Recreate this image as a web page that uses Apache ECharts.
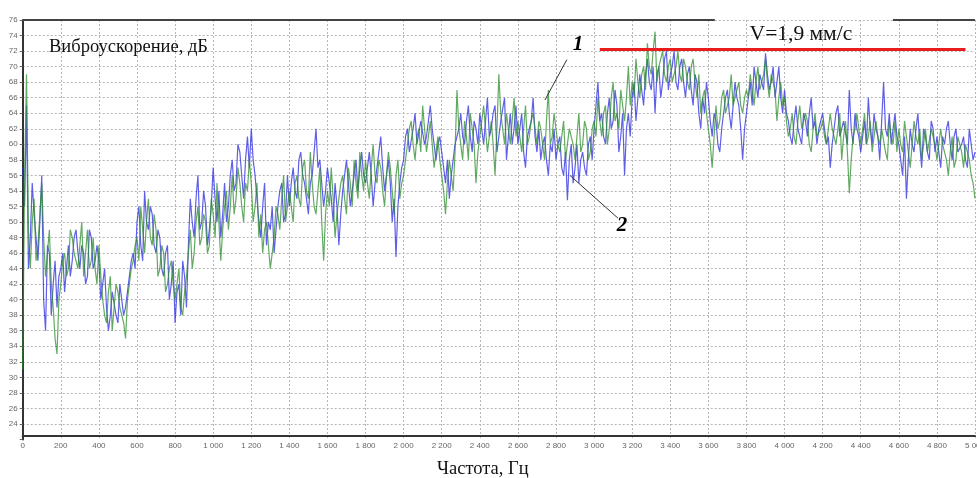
<!DOCTYPE html>
<html>
<head>
<meta charset="utf-8">
<script src="https://cdn.jsdelivr.net/npm/echarts@6/dist/echarts.min.js"></script>
<style>
html,body{margin:0;padding:0;background:#fff;}
#c{width:977px;height:478px;}
</style>
</head>
<body>
<div id="c"></div>
<script>
// Frequency step of the read-off samples (Hz): main samples at 0,20,40..., mid samples at 10,30,50...
const FREQ_STEP = 20;

// Series 1 (green), dB, at 0,20,...,5000 Hz
const green = [
31,69,44,53,47,55,43,49,39,33,
42,46,44,48,45,47,43,49,45,44,
47,40,37,43,39,41,38,35,42,45,
48,52,46,53,47,49,44,46,42,45,
40,44,38,43,49,46,52,48,50,47,
51,55,45,52,49,56,53,55,50,54,
55,52,48,46,50,44,48,51,53,50,
54,50,56,52,58,53,55,51,57,45,
54,57,48,53,56,51,55,58,53,56,
58,53,60,55,57,52,59,54,56,53,
56,60,63,58,62,65,59,63,57,61,
56,51,58,54,67,60,63,58,62,55,
61,65,59,63,56,69,62,64,60,66,
63,59,65,61,64,60,62,58,67,61,
62,59,63,60,61,58,64,60,62,59,
63,66,61,65,62,68,64,67,63,70,
68,71,66,70,73,69,74.5,70,72,68,
71,69,72,68,70,67,71,66,64,67,
62,57,65,63,67,64,69,66,68,64,
67,69,65,70,68,71,66,69,63,68,
66,61,64,60,65,62,63,59,64,61,
63,60,64,61,62,58,63,53.7,61,64,
60,64,61,59,63,60,62,58,61,63,
62,59,61,57,63,60,58,62,59,61,
58,62,59,56,61,58,60,57,59,56,
53
];
// Series 1 (green), dB, at 10,30,...,4990 Hz
const greenMid = [
56,49,50,45,51,48,46,42,35,40,
45,43,49,46,44,50,46,44,48,42,
43,38,41,36,42,39,37,40,44,47,
45,49,50,48,51,43,47,41,44,42,
42,39,41,46,44,50,47,51,46,53,
48,50,49,54,52,51,57,52,55,58,
50,55,51,49,47,46,52,49,56,52,
52,55,53,57,54,59,52,54,50,51,
52,53,51,55,53,57,52,55,59,54,
55,57,56,58,54,56,57,51,58,55,
58,62,60,61,59,62,61,60,59,58,
54,55,56,59,62,58,61,64,60,59,
63,62,61,60,62,64,60,62,63,61,
61,62,60,63,62,63,60,63,60,64,
60,61,58,62,60,61,59,63,58,62,
61,63,64,60,66,63,62,65,66,65,
66,68,69,67,70,72,68,71,69,70,
68,70,69,71,68,70,68,69,66,64,
60,61,62,66,64,66,65,67,65,66,
66,67,68,67,69,68,69,67,66,65,
63,62,61,63,62,64,60,62,61,62,
61,62,62,60,64,61,59,58,62,62,
62,60,63,61,61,62,59,63,60,59,
60,63,59,60,61,62,60,59,62,60,
60,60,58,59,57,61,59,60,58,55
];

// Series 2 (blue), dB, at 0,20,...,5000 Hz
const blue = [
57,65,48,51,45,56,36,46,42,39,
44,41,47,45,49,44,46,43,48,45,
45,42,39,38,41,37,40,39,43,46,
50,47,54,49,51,46,48,43,47,42,
37,42,45,39,53,48,56,50,52,49,
57,50,48,55,52,58,55,59,53,61,
62,56,50,52,47,49,46,52,55,51,
52,57,53,59,55,51,56,62,58,52,
57,53,55,47,54,58,52,56,54,59,
55,59,52,57,61,54,58,50,45.5,55,
58,62,59,64,60,63,61,65,62,60,
59,55,53,58,61,64,60,65,59,62,
64,60,66,62,65,61,63,58,64,62,
60,64,57,62,66,59,58,61,56,59,
58,61,56,52.8,60,57,55,59,56,61,
62,68,64,60,66,63,65,61,56,64,
66,63,69,65,71,67,64,70,68,72,
69,72,67,71,66,70,65,68,62,64,
66,61,63,59,64,67,62,68,65,58,
64,68,70,66,69,71.7,67,70,68,66,
67,63,60,65,62,64,61,66,63,62,
64,60,57,62,65,61,63,67,60,62,
59,63,66,60,62,58,68,61,60,64,
60,56,53,62,59,64,57,61,58,62,
61,57,60,63,58,62,59,61,57,60,
59
];
// Series 2 (blue), dB, at 10,30,...,4990 Hz
const blueMid = [
52,44,55,48,50,40,47,38,45,43,
46,44,43,48,46,47,42,49,44,47,
40,44,36,41,38,42,38,41,45,44,
52,45,50,52,47,49,44,46,40,45,
41,38,43,47,50,53,49,54,47,52,
53,54,51,50,56,54,60,56,58,57,
58,53,48,55,50,52,49,54,50,56,
55,54,58,56,53,55,59,57,55,54,
55,50,52,51,56,55,54,58,57,56,
57,56,55,59,57,56,55,53,52,57,
61,59,62,60,63,60,63,62,58,61,
57,58,56,60,62,61,63,61,63,60,
62,63,61,64,59,63,66,61,60,65,
62,59,61,63,61,62,60,58,60,62,
60,57,59,58,55,60,58,57,60,58,
65,63,61,64,62,67,59,64,62,61,
68,66,67,69,68,70,69,66,71,67,
70,68,70,68,69,67,69,64,66,68,
63,64,60,62,66,64,65,66,62,62,
66,65,68,69,67,69,68,66,70,64,
64,61,63,62,60,63,64,62,60,63,
62,61,60,64,61,63,60,62,64,61,
61,60,62,64,61,63,62,64,62,61,
58,61,58,60,62,60,62,59,63,59,
59,61,62,60,61,59,60,58,62,58
];

// Reference level line V=1,9 мм/с
const refLevel = 72.2;
const refFrom = 3030, refTo = 4950;

// Axis ranges / ticks
const xMin = 0, xMax = 5000, xStep = 200;
const yMin = 22, yMax = 76, yStep = 2;

// Annotation anchors (data coordinates)
const lead1 = [[2857, 70.9], [2742, 65.7]];
const lead2 = [[2873, 56.0], [3125, 50.5]];
const label1 = [2915, 72.8];
const label2 = [3146, 49.6];
const vLabel = [4086, 74.1];
const topGap = [3634, 4569];

const merge = (main, mid) => {
  const out = [];
  main.forEach((v, i) => {
    out.push([i * FREQ_STEP, v]);
    if (i < mid.length) out.push([i * FREQ_STEP + FREQ_STEP / 2, mid[i]]);
  });
  return out;
};

const chart = echarts.init(document.getElementById('c'), null, {renderer: 'canvas'});

const fmtX = v => {
  if (v >= 1000) {
    const s = String(v);
    return s.slice(0, s.length - 3) + ' ' + s.slice(s.length - 3);
  }
  return String(v);
};

const option = {
  animation: false,
  backgroundColor: '#fff',
  title: [
    {
      text: 'Виброускорение, дБ',
      left: 44, top: 33,
      textStyle: {fontFamily: 'Liberation Serif', fontSize: 18.5, fontWeight: 'normal', color: '#111'}
    },
    {
      text: 'Частота, Гц',
      left: 432, top: 455,
      textStyle: {fontFamily: 'Liberation Serif', fontSize: 18.5, fontWeight: 'normal', color: '#111'}
    }
  ],
  grid: {left: 22.7, right: 2, top: 20, bottom: 38.5, containLabel: false, outerBoundsMode: 'none'},
  xAxis: {
    type: 'value', min: xMin, max: xMax, interval: xStep,
    offset: -4,
    axisLine: {show: true, lineStyle: {color: '#333', width: 2}},
    axisTick: {show: false},
    axisLabel: {formatter: fmtX, fontSize: 8, color: '#666', margin: 6, fontFamily: 'Arial'},
    splitLine: {show: true, lineStyle: {color: '#b5b5b5', type: [2, 2], width: 1}}
  },
  yAxis: {
    type: 'value', min: yMin, max: yMax, interval: yStep,
    axisLine: {show: true, lineStyle: {color: '#333', width: 2}},
    axisTick: {show: true, length: 3, lineStyle: {color: '#666'}},
    axisLabel: {formatter: v => (v === yMin ? '' : String(v)), fontSize: 8, color: '#666', margin: 5, fontFamily: 'Arial'},
    splitLine: {show: true, showMinLine: false, lineStyle: {color: '#b5b5b5', type: [2, 2], width: 1}}
  },
  series: [
    {
      name: '2', type: 'line', data: merge(blue, blueMid), showSymbol: false, symbol: 'none', sampling: false,
      lineStyle: {color: '#2a2ae0', width: 1.2, opacity: 0.75}, z: 2, silent: true
    },
    {
      name: '1', type: 'line', data: merge(green, greenMid), showSymbol: false, symbol: 'none', sampling: false,
      lineStyle: {color: '#2e8e2e', width: 1.2, opacity: 0.75}, z: 3, silent: true
    },
    {
      name: 'annot', type: 'line', data: [], z: 5, silent: true,
      markLine: {
        silent: true, symbol: ['none', 'none'], animation: false,
        label: {show: false},
        data: [
          [{coord: [refFrom, refLevel], lineStyle: {color: '#e81c1c', width: 3, type: 'solid'}}, {coord: [refTo, refLevel]}],
          [{coord: lead1[0], lineStyle: {color: '#333', width: 1, type: 'solid'}}, {coord: lead1[1]}],
          [{coord: lead2[0], lineStyle: {color: '#333', width: 1, type: 'solid'}}, {coord: lead2[1]}],
          [{coord: [xMin, yMax], lineStyle: {color: '#444', width: 2, type: 'solid'}}, {coord: [topGap[0], yMax]}],
          [{coord: [topGap[1], yMax], lineStyle: {color: '#444', width: 2, type: 'solid'}}, {coord: [xMax, yMax]}]
        ]
      },
      markPoint: {
        silent: true, animation: false, symbol: 'circle', symbolSize: 0,
        data: [
          {coord: label1, label: {show: true, position: 'inside', formatter: '1', fontFamily: 'Liberation Serif', fontStyle: 'italic', fontWeight: 'bold', fontSize: 21, color: '#000'}},
          {coord: label2, label: {show: true, position: 'inside', formatter: '2', fontFamily: 'Liberation Serif', fontStyle: 'italic', fontWeight: 'bold', fontSize: 21, color: '#000'}},
          {coord: vLabel, label: {show: true, position: 'inside', formatter: 'V=1,9 мм/с', fontFamily: 'Liberation Serif', fontSize: 21.5, color: '#111'}}
        ]
      }
    }
  ]
};

chart.setOption(option);
</script>
</body>
</html>
